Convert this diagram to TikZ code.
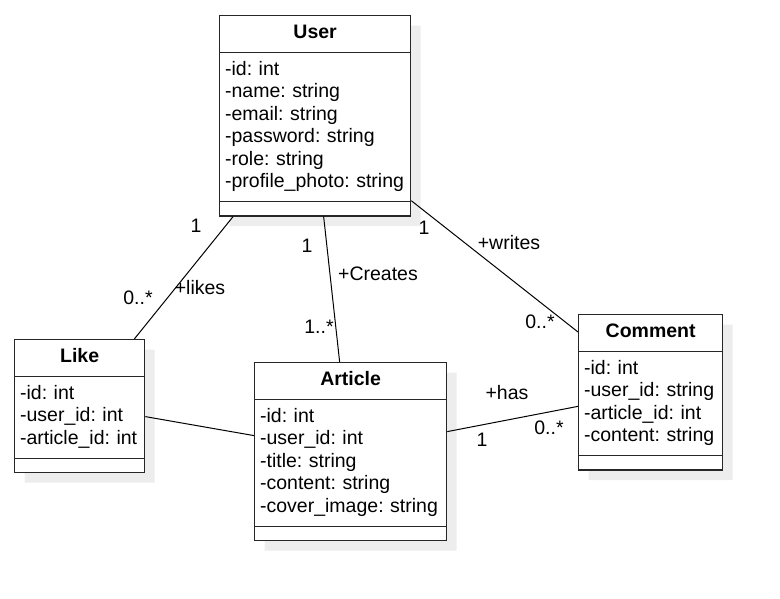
\documentclass[tikz,border=0pt]{standalone}
\usepackage{fontspec}
\setmainfont{Liberation Sans}
\usetikzlibrary{shapes.multipart,shadows}
\frenchspacing

\begin{document}
\begin{tikzpicture}[x=1pt,y=-1pt,font=\fontsize{19.5}{22.5}\selectfont,
umlclass/.style={rectangle split, rectangle split parts=3, draw=black!85, line width=1.3pt, fill=white, align=left, inner xsep=5.5pt, inner ysep=6.5pt,
rectangle split empty part height=0pt, rectangle split empty part depth=0pt, anchor=north west,
drop shadow={shadow xshift=10pt, shadow yshift=-10pt, fill=black!7, opacity=1}},
assoc/.style={draw=black, line width=1pt},
mult/.style={inner sep=1pt}]
\useasboundingbox (0,0) rectangle (780,598);

% classes
\node[umlclass, text width=180pt] (user) at (219,15) {\centering\strut\textbf{User}\par
\nodepart{two}\strut -id: int\\ -name: string\\ -email: string\\ -password: string\\ -role: string\\ -profile\_photo:~string\strut
\nodepart{three}};
\node[umlclass, text width=119pt] (like) at (14,339) {\centering\strut\textbf{Like}\par
\nodepart{two}\strut -id: int\\ -user\_id: int\\ -article\_id:~int\strut
\nodepart{three}};
\node[umlclass, text width=181pt] (article) at (254,362) {\centering\strut\textbf{Article}\par
\nodepart{two}\strut -id: int\\ -user\_id: int\\ -title: string\\ -content: string\\ -cover\_image:~string\strut
\nodepart{three}};
\node[umlclass, text width=133pt] (comment) at (578,314) {\centering\strut\textbf{Comment}\par
\nodepart{two}\strut -id: int\\ -user\_id:~string\\ -article\_id: int\\ -content:~string\strut
\nodepart{three}};

% associations
\draw[assoc] ([xshift=14pt]user.south west) -- ([xshift=-11pt]like.north east);
\draw[assoc] ([xshift=8.5pt]user.south) -- ([xshift=-11pt]article.north);
\draw[assoc] ([yshift=16pt]user.south east) -- ([yshift=-18pt]comment.north west);
\draw[assoc] ([yshift=20pt]article.east) -- ([yshift=-14pt]comment.west);
\draw[assoc] ([yshift=-10.5pt]like.east) -- ([yshift=16pt]article.west);

% multiplicities and roles
\node[mult] (likes-one) at (196,226) {1};
\node[mult] (likes-many) at (138,298) {0..*};
\node[mult] (likes-role) at (200,288) {+likes};
\node[mult] (creates-one) at (307,246) {1};
\node[mult] (creates-role) at (378,274) {+Creates};
\node[mult] (creates-many) at (319,327) {1..*};
\node[mult] (writes-one) at (424,228) {1};
\node[mult] (writes-role) at (509,243) {+writes};
\node[mult] (writes-many) at (540,322) {0..*};
\node[mult] (has-role) at (507,393) {+has};
\node[mult] (has-one) at (482,440) {1};
\node[mult] (has-many) at (549,428) {0..*};
\end{tikzpicture}
\end{document}
